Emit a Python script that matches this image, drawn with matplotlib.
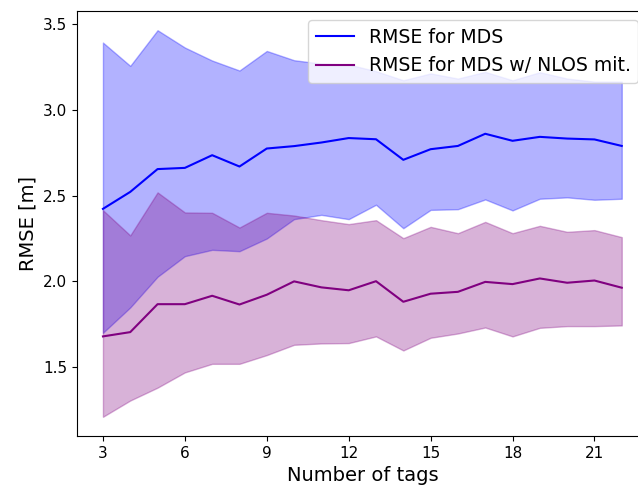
import numpy as np
import matplotlib
matplotlib.use("Agg")
import matplotlib.pyplot as plt

tags = np.arange(3, 23)

# plain MDS: mean RMSE and band limits
mds_mean = [2.423, 2.522, 2.655, 2.662, 2.736, 2.670, 2.775, 2.789, 2.810, 2.836,
            2.829, 2.709, 2.771, 2.790, 2.861, 2.820, 2.843, 2.833, 2.828, 2.790]
mds_upper = [3.393, 3.257, 3.465, 3.364, 3.288, 3.230, 3.344, 3.290, 3.270, 3.265,
             3.226, 3.173, 3.213, 3.183, 3.222, 3.173, 3.220, 3.183, 3.165, 3.165]
mds_lower = [1.700, 1.848, 2.027, 2.147, 2.184, 2.176, 2.250, 2.363, 2.388, 2.363,
             2.447, 2.310, 2.417, 2.421, 2.478, 2.414, 2.482, 2.490, 2.476, 2.482]

# MDS with NLOS mitigation
nlos_mean = [1.679, 1.704, 1.867, 1.867, 1.916, 1.865, 1.922, 2.000, 1.965, 1.948,
             2.001, 1.881, 1.928, 1.939, 1.997, 1.984, 2.017, 1.992, 2.005, 1.963]
nlos_upper = [2.415, 2.268, 2.519, 2.402, 2.400, 2.314, 2.400, 2.384, 2.357, 2.334,
              2.357, 2.252, 2.318, 2.281, 2.347, 2.281, 2.324, 2.289, 2.299, 2.258]
nlos_lower = [1.210, 1.305, 1.380, 1.469, 1.519, 1.519, 1.570, 1.630, 1.638, 1.640,
              1.679, 1.597, 1.671, 1.696, 1.731, 1.679, 1.729, 1.739, 1.739, 1.743]

fig = plt.figure(figsize=(6.38, 4.9), dpi=100)
ax = fig.add_axes([0.1207, 0.1102, 0.8945, 0.8673])

ax.plot(tags, mds_mean, color="blue", label="RMSE for MDS")
ax.fill_between(tags, mds_lower, mds_upper, color="blue", alpha=0.3)
ax.plot(tags, nlos_mean, color="purple", label="RMSE for MDS w/ NLOS mit.")
ax.fill_between(tags, nlos_lower, nlos_upper, color="purple", alpha=0.3)

ax.set_xlim(2.05, 22.95)
ax.set_ylim(1.098, 3.577)
ax.set_xticks(range(3, 22, 3))
ax.set_yticks([1.5, 2.0, 2.5, 3.0, 3.5])
ax.tick_params(labelsize=11)
ax.set_xlabel("Number of tags", fontsize=14)
ax.set_ylabel("RMSE [m]", fontsize=14)
ax.legend(loc="upper right", fontsize=13.6)

fig.savefig("out.png", dpi=100)
